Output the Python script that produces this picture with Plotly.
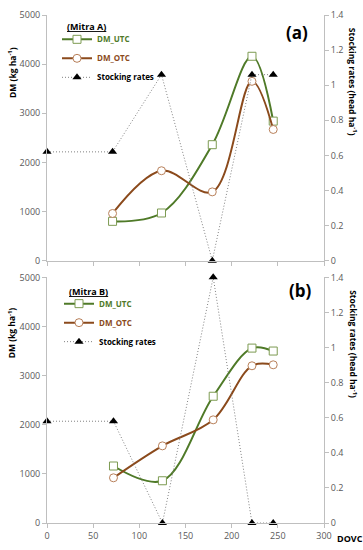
import plotly.graph_objects as go

# ---- data ----
days_a = [71, 124, 179, 222, 245]
utc_a = [800, 970, 2360, 4160, 2840]
otc_a = [960, 1830, 1400, 3650, 2670]
sr_days_a = [0, 71, 124, 179, 222, 245]
sr_a = [0.62, 0.62, 1.06, 0.0, 1.06, 1.06]

days_b = [72, 125, 180, 222, 245]
utc_b = [1160, 860, 2580, 3560, 3500]
otc_b = [920, 1570, 2100, 3200, 3220]
sr_days_b = [0, 72, 125, 180, 222, 245]
sr_b = [0.58, 0.58, 0.0, 1.4, 0.0, 0.0]

x_ticks = [0, 50, 100, 150, 200, 250, 300]

GREEN = "#4f7a28"
GREEN_M = "#7d9b52"
BROWN = "#8b4a1c"
BROWN_M = "#b8805a"
FONT = "Open Sans"
TICKC = "#595959"
AXC = "#bfbfbf"

fig = go.Figure()

def add_panel(xa, ya, ya2, legend, days, utc, otc, srd, sr):
    fig.add_trace(go.Scatter(
        x=srd, y=sr, xaxis=xa, yaxis=ya2, mode="lines+markers",
        line=dict(color="#808080", width=1, dash="1px,2px"),
        marker=dict(symbol="triangle-up", size=8, color="black"),
        cliponaxis=False,
        name="<b>Stocking rates</b>", legend=legend, legendrank=3))
    fig.add_trace(go.Scatter(
        x=days, y=utc, xaxis=xa, yaxis=ya, mode="lines+markers",
        line=dict(color=GREEN, width=2, shape="spline"),
        marker=dict(symbol="square", size=8, color="white",
                    line=dict(color=GREEN_M, width=1)),
        name=f"<b><span style='color:{GREEN}'>DM_UTC</span></b>",
        legend=legend, legendrank=1))
    fig.add_trace(go.Scatter(
        x=days, y=otc, xaxis=xa, yaxis=ya, mode="lines+markers",
        line=dict(color=BROWN, width=2, shape="spline"),
        marker=dict(symbol="circle", size=8, color="white",
                    line=dict(color=BROWN_M, width=1)),
        name=f"<b><span style='color:{BROWN}'>DM_OTC</span></b>",
        legend=legend, legendrank=2))

add_panel("x", "y", "y2", "legend", days_a, utc_a, otc_a, sr_days_a, sr_a)
add_panel("x2", "y3", "y4", "legend2", days_b, utc_b, otc_b, sr_days_b, sr_b)

top_dom = [(525 - 258) / 517, 1.0]
bot_dom = [0.0, 250 / 517]

xcommon = dict(range=[0, 300], tickvals=x_ticks, showgrid=False, zeroline=False,
               showline=True, linecolor=AXC, linewidth=1, ticks="outside",
               ticklen=4, tickcolor=AXC,
               tickfont=dict(family=FONT, size=9, color=TICKC))
yl = dict(range=[0, 5000], dtick=1000, showgrid=False, zeroline=False,
          showline=True, linecolor=AXC, linewidth=1, ticks="outside",
          ticklen=4, tickcolor=AXC,
          tickfont=dict(family=FONT, size=9, color=TICKC))
yr = dict(range=[0, 1.4], dtick=0.2, showgrid=False, zeroline=False,
          showline=True, linecolor=AXC, linewidth=1, ticks="outside",
          ticklen=4, tickcolor=AXC, side="right",
          tickfont=dict(family=FONT, size=9, color=TICKC))

legcommon = dict(font=dict(family=FONT, size=8, color="black"),
                 bgcolor="rgba(0,0,0,0)", borderwidth=0,
                 xanchor="left", yanchor="top", itemwidth=30,
                 tracegroupgap=0)

px = lambda p: (p - 47) / 277
py = lambda p: (525 - p) / 517

fig.update_layout(
    width=363, height=550,
    margin=dict(l=47, r=39, t=8, b=25),
    paper_bgcolor="white", plot_bgcolor="white",
    font=dict(family=FONT),
    xaxis=dict(xcommon, domain=[0, 1], anchor="y", showticklabels=False),
    xaxis2=dict(xcommon, domain=[0, 1], anchor="y3"),
    yaxis=dict(yl, domain=top_dom, anchor="x"),
    yaxis2=dict(yr, domain=top_dom, anchor="x", overlaying="y"),
    yaxis3=dict(yl, domain=bot_dom, anchor="x2"),
    yaxis4=dict(yr, domain=bot_dom, anchor="x2", overlaying="y3"),
    legend=dict(legcommon, x=px(57), y=py(18)),
    legend2=dict(legcommon, x=px(59), y=py(287)),
    showlegend=True,
)

ann = []
def A(text, x, y, size=9, angle=0, xanchor="center"):
    ann.append(dict(text=text, x=x, y=y, xref="paper", yref="paper",
                    showarrow=False, textangle=angle, xanchor=xanchor,
                    yanchor="middle",
                    font=dict(family=FONT, size=size, color="black")))

A("<b>DM (kg ha<sup>-1</sup>)</b>", px(12), py(67), size=8.5, angle=-90)
A("<b>DM (kg ha<sup>-1</sup>)</b>", px(12), py(332), size=8.5, angle=-90)
A("<b>Stocking rates (head ha<sup>-1</sup>)</b>", px(353), py(76), size=8.5, angle=90)
A("<b>Stocking rates (head ha<sup>-1</sup>)</b>", px(353), py(343), size=8.5, angle=90)
A("<b>(a)</b>", px(297), py(26), size=17)
A("<b>(b)</b>", px(300), py(288), size=17)
A("<b>DOVC</b>", px(350), py(541), size=9)
A("<b><span style='text-decoration:underline'>(Mitra A)</span></b>", px(65), py(20), xanchor="left")
A("<b><span style='text-decoration:underline'>(Mitra B)</span></b>", px(67), py(289), xanchor="left")
fig.update_layout(annotations=ann)

fig.write_html("out.html", config={"displayModeBar": False},
               post_script="document.body.style.margin='0';document.body.style.padding='0';")
